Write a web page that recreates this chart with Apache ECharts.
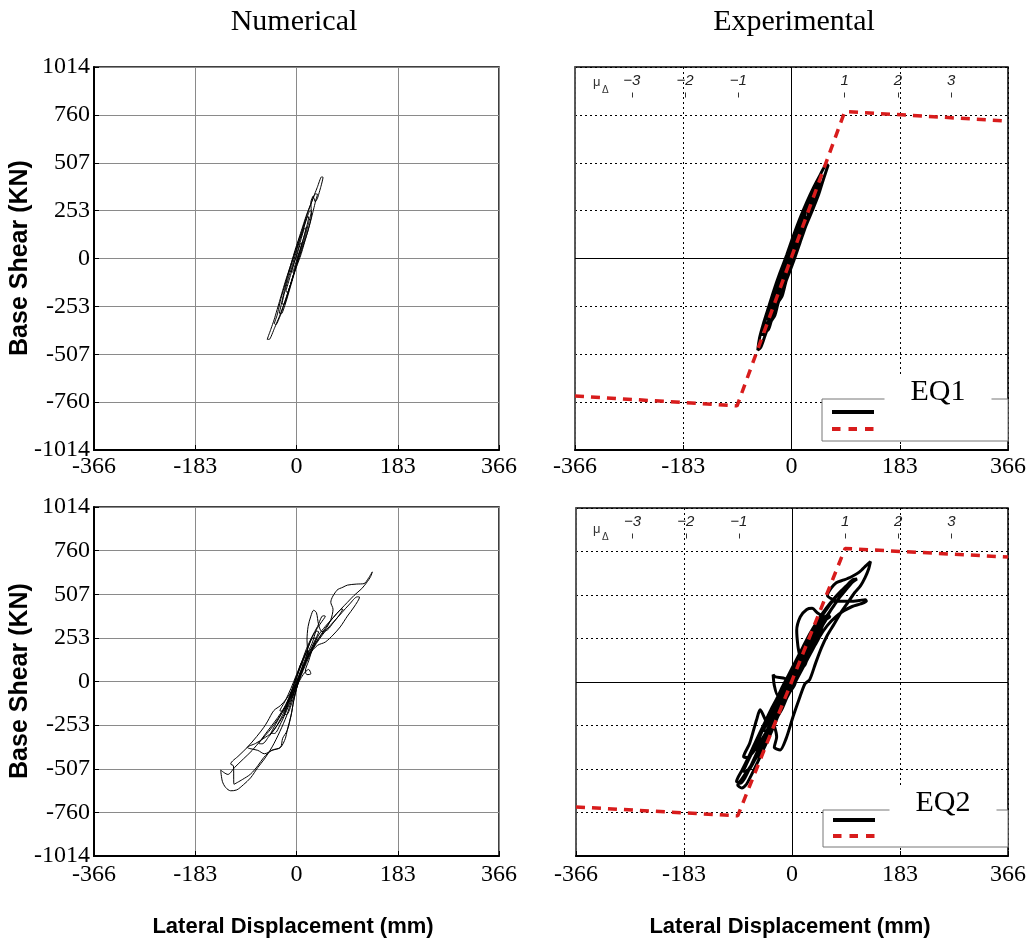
<!DOCTYPE html>
<html><head><meta charset="utf-8">
<script src="https://cdn.jsdelivr.net/npm/echarts@6/dist/echarts.min.js"></script>
<style>html,body{margin:0;padding:0;background:#fff}#c{width:1029px;height:941px}</style>
</head><body><div id="c"></div>
<script>
// ---------- data ----------
const panelTitles = ['Numerical', 'Experimental'];
const eqLabels = ['EQ1', 'EQ2'];
const xAxisTitle = 'Lateral Displacement (mm)';
const yAxisTitle = 'Base Shear (KN)';
const dispTicks = [-366, -183, 0, 183, 366];
const shearTickValues = [-1014, -760.5, -507, -253.5, 0, 253.5, 507, 760.5, 1014];
const shearTickLabels = ['-1014', '-760', '-507', '-253', '0', '253', '507', '760', '1014'];
const muTicks = [-3, -2, -1, 1, 2, 3];
const yieldDisp = 90; // mm, displacement ductility = 1

const bilinearEnvelope = [[-366, -728], [-92, -780], [90, 778], [366, 728]];

const numericalEQ1 = [
 [0,0],[6,40],[10,80],[8,82],[2,30],[-4,-20],[-9,-70],[-7,-72],[-1,-20],[6,40],[12,100],[17,160],[15,162],[8,100],
 [0,20],[-8,-60],[-14,-120],[-19,-175],[-16,-178],[-8,-110],[0,-30],[8,40],[16,120],[22,190],[27,250],[24,252],
 [17,200],[9,130],[0,50],[-8,-20],[-16,-100],[-22,-170],[-28,-250],[-31,-290],[-27,-292],[-18,-220],[-10,-140],
 [-2,-60],[8,20],[16,100],[24,180],[30,250],[35,310],[38,340],[34,342],[26,290],[18,230],[8,140],[-2,50],[-12,-50],
 [-20,-130],[-28,-210],[-35,-300],[-40,-345],[-37,-350],[-29,-300],[-20,-220],[-10,-130],[0,-40],[10,50],[20,140],
 [27,230],[26,300],[30,330],[34,300],[38,320],[44,380],[48,430],[45,432],[38,380],[30,320],[20,240],[10,150],[0,60],
 [-10,-30],[-20,-120],[-30,-220],[-40,-320],[-47,-380],[-53,-428],[-49,-428],[-40,-370],[-30,-300],[-20,-220],
 [-10,-130],[0,-30],[8,60],[16,140],[22,220],[20,222],[12,150],[2,60],[-8,-40],[-18,-140],[-26,-240],[-22,-242],
 [-12,-150],[-2,-50],[2,0]
];

const experimentalEQ1 = [
 [0,0],[8,50],[16,120],[22,180],[18,178],[8,110],[-2,30],[-10,-50],[-18,-120],[-24,-170],[-20,-168],[-12,-110],
 [-2,-30],[8,50],[18,130],[28,220],[36,300],[32,298],[22,240],[12,160],[0,60],[-10,-20],[-20,-110],[-30,-200],
 [-38,-280],[-42,-320],[-36,-318],[-26,-250],[-16,-170],[-6,-90],[6,10],[16,100],[26,190],[36,270],[44,340],[50,390],
 [46,392],[36,340],[26,280],[16,200],[4,100],[-6,10],[-16,-80],[-26,-170],[-36,-260],[-46,-340],[-52,-400],[-48,-402],
 [-40,-360],[-30,-290],[-20,-210],[-10,-120],[2,-20],[12,70],[24,170],[36,260],[46,340],[54,420],[62,495],[58,494],
 [48,440],[38,380],[26,300],[14,210],[2,110],[-8,20],[-20,-80],[-30,-170],[-40,-270],[-48,-350],[-54,-420],[-57,-485],
 [-52,-470],[-46,-420],[-38,-350],[-28,-270],[-18,-190],[-8,-110],[4,-10],[14,80],[24,170],[34,250],[42,330],[48,400],
 [44,398],[34,330],[22,250],[10,160],[-2,60],[-12,-40],[-22,-130],[-32,-220],[-40,-300],[-36,-300],[-24,-210],
 [-12,-110],[0,-10],[6,40],[12,110],[20,150],[24,210],[30,230],[34,290],[40,320],[38,330],[30,290],[24,250],[18,180],
 [12,150],[6,80],[0,20],[-6,-40],[-14,-90],[-18,-150],[-24,-180],[-28,-240],[-34,-260],[-38,-330],[-44,-350],[-46,-380],
 [-40,-380],[-34,-330],[-28,-300],[-22,-230],[-16,-200],[-10,-130],[-4,-70],[2,-10],[8,60],[14,100],[18,160],[26,200],
 [30,260],[36,280],[42,350],[38,352],[32,300],[24,260],[16,190],[10,140],[4,70],[-4,0],[-10,-60],[-18,-110],[-24,-190],
 [-30,-210],[-36,-290],[-32,-292],[-24,-240],[-16,-160],[-8,-80],[0,0]
];

const numericalEQ2 = [
 [0,0],[6,50],[12,110],[10,112],[2,40],[-4,-30],[-10,-90],[-8,-92],[-2,-40],[6,30],[14,100],[22,170],[20,172],[10,110],
 [0,30],[-8,-50],[-16,-130],[-22,-190],[-18,-192],[-8,-120],[2,-20],
 [12,80],[22,160],[32,230],[40,290],[36,292],[26,240],[18,170],[8,90],[-4,-10],[-14,-100],[-26,-180],[-38,-250],
 [-46,-300],[-40,-302],[-28,-240],[-18,-170],[-8,-90],[4,20],
 [14,90],[20,170],[19,240],[21,320],[26,380],[31,414],[36,400],[40,330],[46,290],[56,300],[66,340],[76,380],[84,420],
 [80,418],[66,370],[52,320],[40,270],[30,200],[22,120],[16,60],[19,40],[26,45],[22,70],[12,40],[0,-30],
 [-12,-110],[-22,-190],[-34,-250],[-46,-300],[-59,-330],[-74,-360],[-89,-383],[-84,-390],[-70,-400],[-58,-420],
 [-44,-400],[-29,-383],[-25,-330],[-17,-286],[-10,-200],[-5,-111],[2,-20],
 [12,80],[24,160],[38,210],[52,229],[66,270],[79,317],[92,380],[104,433],[114,490],[110,492],[96,450],[82,400],
 [68,350],[54,300],[42,250],[30,190],[18,110],[6,20],[-6,-40],[-18,-100],[-29,-140],[-41,-169],[-52,-230],[-59,-266],
 [-72,-320],[-89,-383],[-104,-430],[-119,-480],[-114,-490],[-113,-597],[-98,-570],[-83,-538],[-70,-490],[-59,-441],
 [-45,-400],[-29,-383],[-20,-330],[-17,-286],[-10,-200],[-5,-111],[0,-40],[8,40],[16,120],
 [20,170],[30,200],[40,250],[52,300],[62,360],[66,420],[62,460],[73,530],[84,548],[92,560],[108,566],[122,569],
 [130,600],[137,637],[134,610],[128,580],[118,540],[104,500],[92,460],[80,420],[66,370],[52,310],[38,240],[24,160],
 [12,80],[0,-10],[-12,-100],[-24,-170],[-36,-230],[-50,-290],[-64,-340],[-80,-400],[-96,-450],[-112,-500],
 [-124,-540],[-137,-515],[-134,-580],[-128,-616],[-119,-635],[-108,-630],[-96,-600],[-83,-560],[-70,-500],
 [-58,-450],[-44,-380],[-30,-290],[-18,-200],[-8,-100],[0,-20],[8,60],
 [18,150],[28,220],[36,300],[44,340],[52,380],[48,382],[38,320],[28,260],[18,190],[8,100],[-2,10],[-12,-80],
 [-22,-150],[-34,-210],[-48,-270],[-62,-330],[-68,-360],[-62,-362],[-50,-320],[-38,-270],[-26,-200],[-16,-130],
 [-6,-50],[4,30],[14,100],[26,180],[36,250],[30,252],[20,190],[10,120],[0,40],[-10,-40],[-20,-110],[-30,-170],
 [-24,-172],[-14,-110],[-4,-40],[4,20]
];

const experimentalEQ2 = [
 [0,0],[10,60],[22,140],[32,210],[36,240],[30,238],[18,170],[6,90],[-6,10],[-16,-60],[-26,-140],[-34,-210],
 [-38,-240],[-32,-236],[-20,-160],[-8,-80],[4,0],
 [16,80],[28,160],[40,250],[52,330],[60,380],[56,382],[44,320],[30,250],[16,170],[2,90],[-10,10],[-22,-70],
 [-34,-160],[-46,-250],[-56,-330],[-62,-380],[-56,-378],[-44,-300],[-30,-210],[-16,-120],[-4,-40],
 [8,40],[14,120],[10,210],[8,300],[14,380],[25,423],[34,430],[44,400],[56,380],[66,420],[76,470],[86,520],[92,545],
 [86,540],[72,490],[58,430],[44,360],[30,280],[18,200],[6,120],[-6,40],[-18,-40],[-30,-130],[-42,-220],[-54,-310],
 [-66,-400],[-76,-470],[-82,-520],[-76,-522],[-64,-460],[-52,-380],[-40,-290],[-28,-200],[-16,-110],[-4,-20],
 [-12,20],[-28,30],[-32,43],[-30,-20],[-24,-80],[-14,-40],[0,30],[12,100],[26,190],[40,280],[54,360],[68,430],
 [80,490],[92,540],[102,580],[110,600],[104,598],[92,560],[78,510],[64,450],[50,380],[36,300],[22,210],[8,120],
 [-6,30],[-20,-60],[-34,-150],[-48,-250],[-62,-350],[-74,-440],[-84,-510],[-92,-560],[-94,-580],[-88,-590],
 [-80,-560],[-70,-490],[-58,-400],[-46,-310],[-34,-230],[-26,-320],[-30,-380],[-20,-396],[-10,-330],[2,-200],
 [12,-100],[22,-10],[30,14],[40,110],[50,200],[59,267],[70,330],[82,400],[94,460],[106,520],[116,560],[124,610],
 [130,660],[133,702],[126,680],[114,640],[100,612],[88,595],[75,579],[66,545],[60,505],[70,480],[84,470],[100,470],
 [114,475],[124,480],[126,470],[116,455],[102,440],[88,415],[74,380],[60,330],[46,260],[32,170],[18,80],[4,-10],
 [-10,-100],[-24,-200],[-38,-300],[-52,-390],[-66,-470],[-78,-530],[-86,-570],[-92,-600],[-85,-618],[-78,-600],
 [-70,-550],[-60,-480],[-48,-390],[-36,-300],[-24,-200],[-12,-100],[0,-10],
 [12,80],[26,180],[40,270],[54,350],[66,420],[76,470],[70,470],[58,420],[44,350],[30,260],[16,160],[2,60],
 [-12,-40],[-26,-150],[-40,-250],[-54,-162],[-60,-220],[-65,-279],[-72,-360],[-82,-435],[-76,-440],[-64,-400],
 [-52,-340],[-40,-270],[-28,-190],[-16,-100],[-4,-20],[4,50],
 [12,60],[20,150],[30,180],[38,260],[48,300],[56,360],[64,380],[60,390],[50,340],[40,300],[30,230],[20,190],[10,110],
 [0,70],[-8,-10],[-18,-50],[-26,-130],[-36,-170],[-44,-250],[-52,-290],[-58,-360],[-50,-362],[-42,-310],[-34,-270],
 [-24,-200],[-16,-150],[-6,-70],[4,-20],[12,60],[22,100],[30,180],[40,220],[50,300],[44,310],[34,260],[24,220],
 [14,140],[4,90],[-6,10],[-14,-40],[-24,-120],[-32,-160],[-42,-240],[-48,-280],[-40,-290],[-30,-230],[-20,-160],
 [-10,-90],[0,-20],[10,40],[18,110],[26,140],[34,220]
];

// ---------- layout ----------
const grids = [
  {left: 94, top: 67, width: 405, height: 383},
  {left: 575, top: 67, width: 433, height: 383},
  {left: 94, top: 507, width: 405, height: 349},
  {left: 576, top: 508, width: 432, height: 348}
];
const isExp = [false, true, false, true];
const SERIF = '"Liberation Serif", "Times New Roman", serif';
const SANS = '"Liberation Sans", Arial, sans-serif';
const RED = '#d81c1c';

const xStep = dispTicks[1] - dispTicks[0];
const yStep = shearTickValues[1] - shearTickValues[0];

function shearLabel(v) {
  const i = shearTickValues.findIndex(t => Math.abs(t - v) < 1);
  return i >= 0 ? shearTickLabels[i] : '';
}

const xAxes = grids.map((g, i) => ({
  type: 'value', gridIndex: i,
  min: dispTicks[0], max: dispTicks[dispTicks.length - 1], interval: xStep,
  axisLine: {show: true, onZero: false, lineStyle: {color: '#000', width: 2}},
  axisTick: {show: true, inside: true, length: 5, lineStyle: {color: '#000'}},
  axisLabel: {color: '#000', fontFamily: SERIF, fontSize: 24, margin: i < 2 ? 5 : 7},
  splitLine: isExp[i]
    ? {show: true, lineStyle: {color: '#000', width: 1, type: [2, 3]}}
    : {show: true, lineStyle: {color: '#8a8a8a', width: 1}}
}));
// ductility (mu) axes inside the experimental panels
[1, 3].forEach(gi => {
  const vals = muTicks.map(m => m * yieldDisp);
  xAxes.push({
    type: 'value', gridIndex: gi, position: 'top', offset: -30.5,
    min: dispTicks[0], max: dispTicks[dispTicks.length - 1],
    axisLine: {show: false, onZero: false},
    axisTick: {show: true, customValues: vals, length: 5, lineStyle: {color: '#333'}},
    axisLabel: {show: true, customValues: vals, margin: 9, color: '#222', fontFamily: SANS,
      fontStyle: 'italic', fontSize: 15,
      formatter: v => { const m = Math.round(v / yieldDisp); return m < 0 ? '\u2212' + (-m) : String(m); }},
    splitLine: {show: false}
  });
});

const yAxes = grids.map((g, i) => ({
  type: 'value', gridIndex: i,
  min: shearTickValues[0], max: shearTickValues[shearTickValues.length - 1], interval: yStep,
  axisLine: {show: true, onZero: false, lineStyle: {color: isExp[i] ? '#666' : '#000', width: isExp[i] ? 1.5 : 2}},
  axisTick: {show: !isExp[i], inside: true, length: 5, lineStyle: {color: '#000'}},
  axisLabel: {show: !isExp[i], color: '#000', fontFamily: SERIF, fontSize: 24, margin: 4, formatter: shearLabel},
  splitLine: isExp[i]
    ? {show: true, lineStyle: {color: '#000', width: 1, type: [2, 3]}}
    : {show: true, lineStyle: {color: '#8a8a8a', width: 1}}
}));

const zeroLines = {
  silent: true, symbol: 'none', label: {show: false},
  lineStyle: {color: '#000', width: 1, type: 'solid'},
  data: [{xAxis: 0}, {yAxis: 0}]
};

const series = [
  {type: 'line', name: 'Numerical EQ1', xAxisIndex: 0, yAxisIndex: 0, data: numericalEQ1,
   symbol: 'none', smooth: 0.15, lineStyle: {color: '#000', width: 1}},
  {type: 'line', name: 'Experimental EQ1', xAxisIndex: 1, yAxisIndex: 1, data: experimentalEQ1,
   symbol: 'none', smooth: 0.25, lineStyle: {color: '#000', width: 3}, markLine: zeroLines},
  {type: 'line', name: 'Bilinear EQ1', xAxisIndex: 1, yAxisIndex: 1, data: bilinearEnvelope,
   symbol: 'none', lineStyle: {color: RED, width: 3.5, type: [9, 7]}, z: 5},
  {type: 'line', name: 'Numerical EQ2', xAxisIndex: 2, yAxisIndex: 2, data: numericalEQ2,
   symbol: 'none', smooth: 0.3, lineStyle: {color: '#000', width: 1}},
  {type: 'line', name: 'Experimental EQ2', xAxisIndex: 3, yAxisIndex: 3, data: experimentalEQ2,
   symbol: 'none', smooth: 0.25, lineStyle: {color: '#000', width: 3}, markLine: zeroLines},
  {type: 'line', name: 'Bilinear EQ2', xAxisIndex: 3, yAxisIndex: 3, data: bilinearEnvelope,
   symbol: 'none', lineStyle: {color: RED, width: 3.5, type: [9, 7]}, z: 5}
];

// ---------- decorations (text, legend boxes) ----------
const graphics = [];
const titleX = [294, 794];
panelTitles.forEach((t, i) => graphics.push({type: 'text', x: titleX[i], y: 22, z: 10,
  style: {text: t, font: '30px ' + SERIF, fill: '#000', align: 'center', verticalAlign: 'middle'}}));
[258, 681].forEach(cy => graphics.push({type: 'text', x: 20, y: cy, rotation: Math.PI / 2, z: 10,
  style: {text: yAxisTitle, font: 'bold 25px ' + SANS, fill: '#000', align: 'center', verticalAlign: 'middle'}}));
[293, 790].forEach(cx => graphics.push({type: 'text', x: cx, y: 927, z: 10,
  style: {text: xAxisTitle, font: 'bold 22px ' + SANS, fill: '#000', align: 'center', verticalAlign: 'middle'}}));

const muPos = [{x: 593, y: 82}, {x: 593, y: 529}];
muPos.forEach(p => {
  graphics.push({type: 'text', x: p.x, y: p.y, z: 10,
    style: {text: '\u03bc', font: '13px ' + SANS, fill: '#333', align: 'left', verticalAlign: 'middle'}});
  graphics.push({type: 'text', x: p.x + 9, y: p.y + 8, z: 10,
    style: {text: '\u0394', font: '10px ' + SANS, fill: '#333', align: 'left', verticalAlign: 'middle'}});
});

const legendBoxes = [
  {x: 822, y: 399, w: 186, h: 42, textX: 938, textY: 392, l1: 412, l2: 429},
  {x: 823, y: 810, w: 185, h: 37, textX: 943, textY: 803, l1: 820, l2: 836}
];
legendBoxes.forEach((b, i) => {
  graphics.push({type: 'rect', z: 10, shape: {x: b.x, y: b.y, width: b.w, height: b.h},
    style: {fill: '#fff', stroke: '#777', lineWidth: 1}});
  graphics.push({type: 'line', z: 11, shape: {x1: b.x + 10, y1: b.l1, x2: b.x + 52, y2: b.l1},
    style: {stroke: '#000', lineWidth: 4}});
  graphics.push({type: 'line', z: 11, shape: {x1: b.x + 10, y1: b.l2, x2: b.x + 52, y2: b.l2},
    style: {stroke: RED, lineWidth: 4, lineDash: [8.5, 8]}});
  graphics.push({type: 'text', x: b.textX, y: b.textY, z: 12,
    style: {text: eqLabels[i], font: '30px ' + SERIF, fill: '#000', align: 'center', verticalAlign: 'middle',
      backgroundColor: '#fff', padding: [0, 26]}});
});

const chart = echarts.init(document.getElementById('c'), null, {renderer: 'canvas'});
chart.setOption({
  animation: false,
  backgroundColor: '#fff',
  grid: grids.map(g => Object.assign({show: true, borderColor: '#000', borderWidth: 1.5, backgroundColor: 'transparent'}, g)),
  xAxis: xAxes,
  yAxis: yAxes,
  series: series,
  graphic: graphics
});
</script></body></html>
